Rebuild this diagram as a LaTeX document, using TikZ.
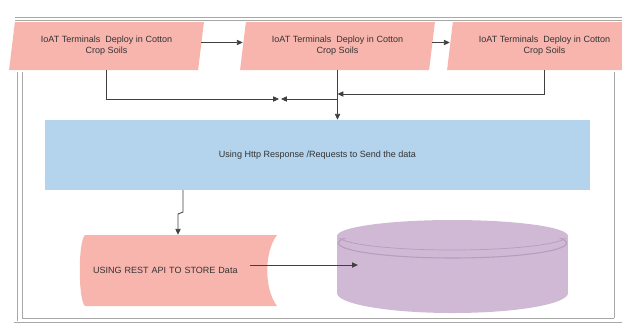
\documentclass[tikz,border=0pt]{standalone}
\usepackage{fontspec}
\setmainfont{Liberation Sans}
\usetikzlibrary{shapes.geometric,arrows.meta}
\definecolor{soilpink}{HTML}{F8B5AE}
\definecolor{httpblue}{HTML}{B3D4EC}
\definecolor{dbpurple}{HTML}{CFB9D4}
\definecolor{dbrim}{HTML}{B79CBE}
\definecolor{linegray}{HTML}{404040}
\definecolor{framegray}{HTML}{A8A8A8}
\definecolor{txtgray}{HTML}{333333}
\tikzstyle{terminal}=[trapezium,trapezium left angle=78,trapezium right angle=102,trapezium stretches=true,fill=soilpink,minimum width=195*0.03cm,minimum height=48*0.03cm,align=center,inner sep=0pt]
\tikzstyle{httpbox}=[rectangle,fill=httpblue,minimum width=545*0.03cm,minimum height=70*0.03cm,inner sep=0pt]
\tikzstyle{storebox}=[rectangle,minimum height=71*0.03cm,text width=170*0.03cm,inner xsep=14*0.03cm,align=left]
\tikzstyle{flow}=[draw=linegray,line width=0.7pt,-{Triangle[length=5pt,width=4.5pt]}]
\tikzstyle{frame}=[draw=framegray,line width=0.7pt]

\begin{document}
\begin{tikzpicture}[x=0.03cm,y=-0.03cm,font=\fontsize{7.7}{9.5}\selectfont,text=txtgray]
\useasboundingbox (0,0) rectangle (622,325);
\clip (0,0) rectangle (622,325);
% window frame
\draw[frame] (15,17) -- (622,17);
\draw[frame] (15,20.5) -- (622,20.5);
\draw[frame] (17,72) -- (17,321);
\draw[frame] (22,72) -- (22,318);
\draw[frame] (614,72) -- (614,318);
\draw[frame] (22,318) -- (614,318);
\draw[frame] (14,322) -- (622,322);

% terminals
\node[terminal] (t1) at (106.5,46) {IoAT Terminals\ \ Deploy in Cotton\\Crop Soils};
\node[terminal] (t2) at (337.5,46) {IoAT Terminals\ \ Deploy in Cotton\\Crop Soils};
\node[terminal] (t3) at (544.5,46) {IoAT Terminals\ \ Deploy in Cotton\\Crop Soils};
\draw[flow] ([yshift=3pt]t1.east) -- ([yshift=3pt]t2.west);
\draw[flow] ([yshift=3pt]t2.east) -- ([yshift=3pt]t3.west);

\node[httpbox] (http) at (317.5,155) {Using Http Response /Requests to Send the data};

\coordinate (m1) at (279,99);
\coordinate (m2) at (281,99);
\draw[flow] (t1.south) |- (m1);
\draw[flow] (t2.south |- m2) -- (m2);
\draw[flow] (t3.south) |- (t2.south |- 0,94);
\draw[flow] (t2.south) -- (t2.south |- http.north);

% store data shape
\fill[soilpink] (85,235) -- (277,235) .. controls (264,252) and (264,289) .. (277,306)
  -- (85,306) .. controls (78,300) and (78,241) .. (85,235);
\node[storebox] (store) at (178,270.5) {USING REST API TO STORE Data};
\draw[flow] (http.south -| 183,0) -- (183,212) -- (178,214) -- (store.north);

% database
\fill[dbpurple] (337,236) rectangle (568,293);
\fill[dbpurple] (452.5,293) ellipse[x radius=115.5,y radius=20];
\fill[dbpurple] (452.5,236) ellipse[x radius=115.5,y radius=16];
\begin{scope}
\clip (330,238) rectangle (575,270);
\draw[dbrim,line width=0.6pt] (452.5,236) ellipse[x radius=114.5,y radius=14];
\draw[dbrim,line width=0.9pt] (452.5,243) ellipse[x radius=114,y radius=15];
\end{scope}
\node[minimum width=231*0.03cm,minimum height=90*0.03cm,inner sep=0pt] (db) at (452.5,265) {};
\draw[flow] (250,0 |- db.west) -- ([xshift=18pt]db.west);
\end{tikzpicture}
\end{document}
